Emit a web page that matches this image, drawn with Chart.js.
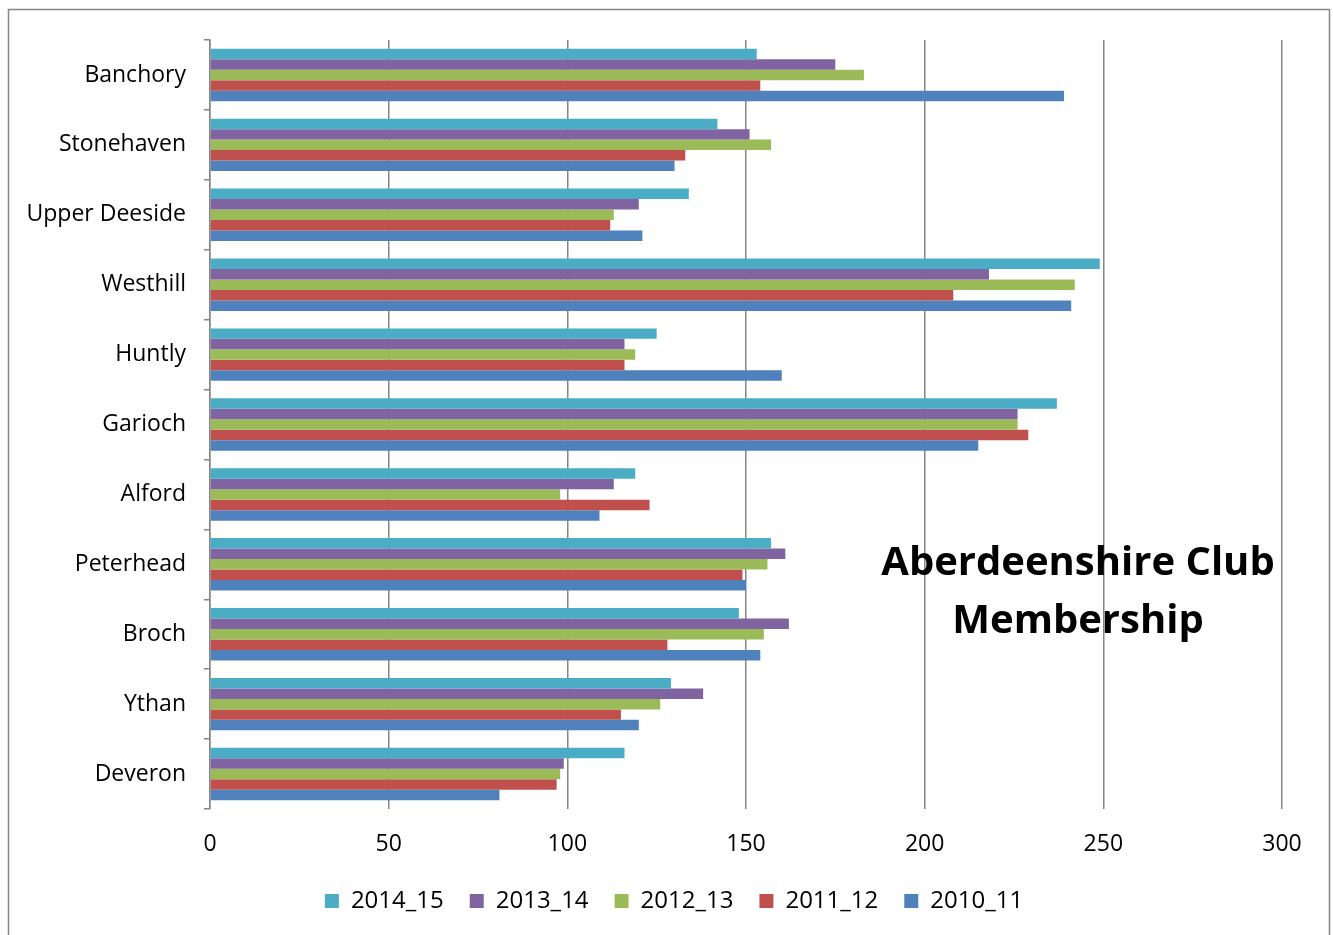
<!DOCTYPE html>
<html>
<head>
<meta charset="utf-8">
<script src="https://cdn.jsdelivr.net/npm/chart.js@4/dist/chart.umd.min.js"></script>
<style>
html,body{margin:0;padding:0;background:#fff;}
#wrap{width:1333px;height:935px;position:relative;}
</style>
</head>
<body>
<div id="wrap"><canvas id="c" width="1333" height="935"></canvas></div>
<script>
const categories = ["Banchory","Stonehaven","Upper Deeside","Westhill","Huntly","Garioch","Alford","Peterhead","Broch","Ythan","Deveron"];
const s2014_15 = [153,142,134,249,125,237,119,157,148,129,116];
const s2013_14 = [175,151,120,218,116,226,113,161,162,138,99];
const s2012_13 = [183,157,113,242,119,226,98,156,155,126,98];
const s2011_12 = [154,133,112,208,116,229,123,149,128,115,97];
const s2010_11 = [239,130,121,241,160,215,109,150,154,120,81];
const seriesNames = ["2014_15","2013_14","2012_13","2011_12","2010_11"];
const seriesColors = ["#4BACC6","#8064A2","#9BBB59","#C0504D","#4F81BD"];
const xTicks = [0,50,100,150,200,250,300];
const titleLines = ["Aberdeenshire Club","Membership"];

const seriesData = [s2014_15,s2013_14,s2012_13,s2011_12,s2010_11];

const frame = {
  id:'frame',
  afterLayout(chart){
    if (chart.legend){ chart.legend.left += 28; chart.legend.right += 28; }
  },
  beforeDraw(chart){
    const ctx = chart.ctx;
    ctx.save();
    ctx.fillStyle='#fff';
    ctx.fillRect(0,0,chart.width,chart.height);
    ctx.strokeStyle='#868686';
    ctx.lineWidth=1.5;
    ctx.strokeRect(8.5,9.5,1321,960);
    ctx.restore();
  },
  afterDatasetsDraw(chart){
    const ctx = chart.ctx;
    ctx.save();
    ctx.fillStyle='#000';
    ctx.font='bold 40px "Open Sans"';
    ctx.textAlign='center';
    ctx.textBaseline='middle';
    ctx.fillText(titleLines[0],1078,564);
    ctx.fillText(titleLines[1],1078,622);
    ctx.restore();
  }
};

new Chart(document.getElementById('c'),{
  type:'bar',
  data:{
    labels:categories,
    datasets:seriesData.map((d,i)=>({
      label:seriesNames[i],
      data:d,
      backgroundColor:seriesColors[i],
      borderWidth:0,
      categoryPercentage:0.75,
      barPercentage:1.0
    }))
  },
  options:{
    indexAxis:'y',
    responsive:false,
    animation:false,
    devicePixelRatio:1,
    layout:{padding:{left:10,top:40,right:51,bottom:12}},
    plugins:{
      legend:{
        position:'bottom',
        labels:{
          font:{family:'"Open Sans"',size:24},
          color:'#000',
          boxWidth:14,boxHeight:14,
          padding:26
        }
      },
      tooltip:{enabled:false}
    },
    scales:{
      x:{
        min:0,max:300,
        afterBuildTicks(scale){scale.ticks = xTicks.map(v=>({value:v}));},
        grid:{color:'#868686',lineWidth:1.5,drawTicks:false},
        border:{display:false},
        ticks:{font:{family:'"Open Sans"',size:23},color:'#000',padding:22},
        afterFit(scale){scale.height=54;}
      },
      y:{
        grid:{drawOnChartArea:false,drawTicks:true,tickLength:6,color:'#868686',lineWidth:1.5,offset:true},
        border:{display:true,color:'#868686',width:1.5},
        ticks:{font:{family:'"Open Sans"',size:23},color:'#000',padding:18},
        afterFit(scale){scale.width=200;}
      }
    }
  },
  plugins:[frame]
});
</script>
</body>
</html>
